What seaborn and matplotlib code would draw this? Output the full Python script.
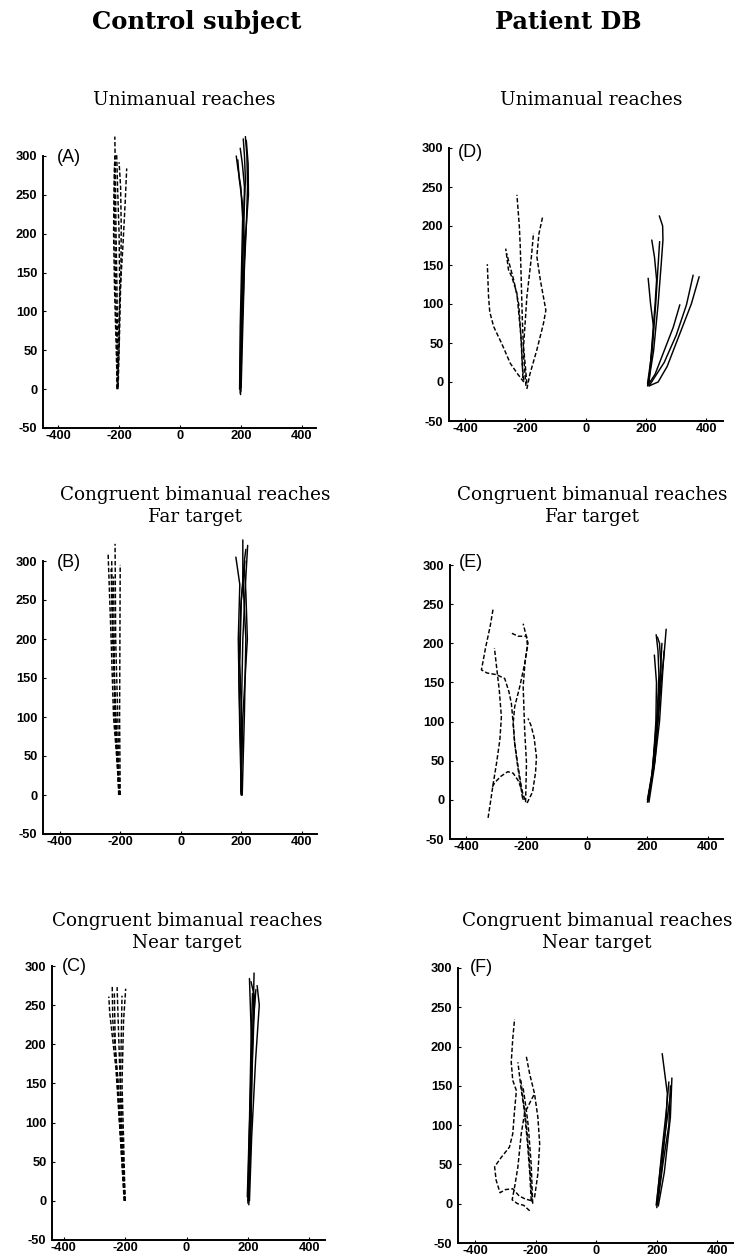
import matplotlib
matplotlib.use("Agg")
import matplotlib.pyplot as plt
import pandas as pd
import seaborn as sns

# ---------------- data (mm) ----------------
XTICKS = [-400, -200, 0, 200, 400]
XTICK_LABELS = ["-400", "-200", "0", "200", "400"]
YTICKS = [-50, 0, 50, 100, 150, 200, 250, 300]
YTICK_LABELS = ["-50", "0", "50", "100", "150", "200", "250", "300"]

COLUMN_TITLES = ["Control subject", "Patient DB"]
ROW_TITLES = ["Unimanual reaches", "Congruent bimanual reaches\nFar target",
              "Congruent bimanual reaches\nNear target"]

# (A) control, unimanual: left hand (dashed) and right hand (solid)
A_left = [
    ([-207, -205, -207, -210, -212, -214], [0, 60, 130, 200, 270, 325]),
    ([-205, -200, -198, -200, -205, -208], [0, 60, 130, 200, 260, 303]),
    ([-206, -203, -196, -188, -180, -175], [2, 60, 130, 180, 240, 284]),
    ([-204, -208, -212, -214, -215, -214], [0, 70, 140, 210, 270, 300]),
    ([-203, -198, -194, -193, -195, -200], [3, 80, 150, 210, 260, 292]),
    ([-206, -210, -215, -218, -217, -215], [1, 60, 130, 200, 250, 290]),
]
A_right = [
    ([198, 200, 204, 208, 212, 205, 198], [-5, 60, 130, 200, 260, 290, 310]),
    ([200, 203, 210, 218, 222, 220, 215], [-3, 70, 140, 210, 260, 300, 325]),
    ([196, 198, 202, 206, 200, 190, 185], [0, 80, 150, 220, 260, 285, 300]),
    ([199, 202, 208, 216, 225, 224, 218], [-7, 70, 140, 200, 250, 290, 320]),
    ([201, 205, 210, 212, 205, 195, 190], [2, 60, 130, 190, 240, 270, 295]),
    ([197, 200, 205, 210, 215, 212, 208], [0, 80, 150, 220, 270, 300, 322]),
]

# (B) control, bimanual far
B_left = [
    ([-203, -212, -222, -230, -240], [0, 50, 100, 200, 310]),
    ([-203, -208, -215, -217], [0, 100, 200, 322]),
    ([-200, -202, -201, -200], [0, 100, 200, 295]),
    ([-205, -215, -225, -230], [0, 100, 200, 290]),
    ([-203, -218, -220, -222], [0, 100, 200, 280]),
    ([-201, -210, -218, -225, -228], [0, 60, 140, 220, 300]),
]
B_right = [
    ([200, 195, 190, 195, 182], [0, 80, 200, 270, 305]),
    ([203, 210, 215, 205, 205], [0, 100, 200, 280, 327]),
    ([200, 200, 205, 215, 221], [0, 100, 200, 280, 320]),
    ([198, 205, 220, 215, 210], [5, 100, 200, 260, 290]),
    ([202, 192, 198, 210, 215], [0, 150, 240, 300, 315]),
    ([199, 203, 195, 200, 212], [2, 70, 170, 250, 300]),
]

# (C) control, bimanual near
C_left = [
    ([-201, -210, -222, -240, -242], [0, 60, 150, 230, 276]),
    ([-202, -215, -230, -250, -253], [0, 80, 170, 240, 261]),
    ([-200, -205, -210, -205, -198], [0, 80, 150, 230, 271]),
    ([-201, -212, -220, -226], [0, 100, 200, 273]),
    ([-203, -218, -232, -235], [0, 100, 200, 265]),
    ([-200, -208, -215, -212, -210], [0, 70, 150, 220, 262]),
]
C_right = [
    ([203, 207, 212, 205], [-5, 100, 200, 284]),
    ([200, 210, 215, 220], [0, 100, 200, 291]),
    ([205, 212, 225, 237, 230], [0, 80, 180, 250, 275]),
    ([198, 205, 210, 215], [5, 100, 200, 265]),
    ([202, 208, 212, 222, 210], [0, 60, 150, 260, 280]),
    ([200, 204, 210, 218, 226], [-3, 80, 160, 230, 270]),
]

# (D) patient, unimanual
D_left = [
    ([-205, -225, -250, -278, -305, -318, -322, -326], [0, 10, 24, 49, 71, 90, 110, 151]),
    ([-205, -210, -215, -228, -245, -256, -265], [2, 20, 60, 114, 135, 144, 171]),
    ([-198, -205, -210, -215, -217, -220, -228], [-5, 30, 80, 150, 175, 200, 240]),
    ([-195, -200, -206, -195, -180, -173], [-2, 20, 45, 109, 160, 191]),
    ([-195, -185, -162, -140, -132, -150, -162, -155, -142], [-9, 10, 41, 75, 92, 130, 161, 190, 213]),
    ([-208, -213, -222, -238, -252, -262], [5, 50, 100, 130, 150, 165]),
]
D_right = [
    ([207, 225, 240, 250, 256, 255, 244], [-4, 40, 100, 150, 182, 200, 213]),
    ([210, 222, 230, 235, 228, 219], [0, 60, 100, 131, 160, 182]),
    ([205, 215, 225, 215, 207], [-5, 20, 70, 100, 133]),
    ([210, 260, 300, 334, 356], [-5, 25, 60, 99, 137]),
    ([210, 240, 270, 310, 350, 376], [-5, 0, 20, 60, 100, 135]),
    ([208, 230, 260, 290, 312], [-3, 10, 40, 70, 99]),
    ([205, 220, 232, 240, 245], [-2, 40, 100, 150, 180]),
]

# (E) patient, bimanual far
E_left = [
    ([-327, -318, -310, -299, -288, -283, -290, -299, -306], [-23, 0, 21, 47, 77, 106, 140, 170, 194]),
    ([-205, -215, -228, -244, -262, -285, -305, -315], [0, 12, 25, 34, 36, 30, 22, 15]),
    ([-213, -220, -230, -239, -244, -250, -258, -272, -300, -330, -349, -335, -320, -310],
     [2, 20, 45, 72, 98, 123, 138, 155, 160, 162, 166, 195, 222, 245]),
    ([-211, -217, -228, -239, -244, -239, -222, -206, -195, -211], [0, 17, 43, 72, 98, 119, 145, 174, 200, 225]),
    ([-203, -200, -206, -211, -205, -197, -200, -228, -255], [-3, 47, 89, 145, 175, 198, 209, 209, 214]),
    ([-198, -180, -170, -167, -175, -185, -195], [-4, 10, 35, 55, 80, 95, 104]),
]
E_right = [
    ([200, 215, 232, 238, 235, 229], [-3, 30, 100, 160, 190, 211]),
    ([203, 220, 235, 245, 255, 262], [0, 40, 100, 150, 185, 218]),
    ([205, 222, 240, 250, 255], [-3, 40, 100, 160, 190]),
    ([200, 218, 228, 230, 223], [0, 40, 100, 150, 185]),
    ([202, 225, 238, 245, 240, 233], [0, 50, 120, 170, 200, 208]),
    ([201, 214, 226, 236, 244, 248], [-2, 30, 80, 130, 170, 200]),
]

# (F) patient, bimanual near
F_left = [
    ([-215, -235, -255, -276, -300, -318, -331, -336, -314, -287, -276, -270, -264, -276, -281, -276, -270],
     [4, 6, 10, 19, 18, 14, 30, 47, 59, 72, 89, 119, 144, 157, 180, 210, 235]),
    ([-220, -240, -260, -278, -270, -259, -248, -237, -215, -204], [-9, -2, 0, 5, 21, 47, 89, 115, 132, 140]),
    ([-204, -193, -187, -193, -204, -220, -231], [8, 38, 76, 110, 140, 165, 187]),
    ([-215, -220, -228, -238, -248, -259], [4, 40, 80, 120, 145, 180]),
    ([-210, -215, -225, -235, -243], [0, 50, 100, 130, 150]),
    ([-212, -222, -231, -243, -250], [2, 60, 100, 136, 160]),
]
F_right = [
    ([200, 215, 230, 235, 225, 218], [-5, 40, 100, 140, 170, 191]),
    ([203, 220, 240, 245], [0, 50, 100, 150]),
    ([205, 225, 245, 250], [-3, 40, 110, 160]),
    ([200, 215, 232, 240], [0, 60, 120, 155]),
    ([198, 212, 228, 242, 248], [-2, 45, 90, 130, 145]),
]

PANEL_DATA = {"A": (A_left, A_right), "B": (B_left, B_right), "C": (C_left, C_right),
              "D": (D_left, D_right), "E": (E_left, E_right), "F": (F_left, F_right)}

# ---------------- layout (pixels) ----------------
W, H = 736, 1259
# left px, top px (y=300), right px, bottom px (y=-50), xlim, label pos
LAYOUT = {
    "A": (43, 156, 316, 428, (-450, 447), (-404, 298)),
    "B": (43, 561, 317, 834, (-455, 450), (-409, 298)),
    "C": (52, 966, 325, 1240, (-438, 451), (-405, 300)),
    "D": (449, 148, 723, 421, (-453, 455), (-423, 294)),
    "E": (450, 565, 723, 839, (-453, 450), (-423, 303)),
    "F": (458, 968, 733, 1243, (-457, 452), (-417, 301)),
}

sns.set_style("ticks")
plt.rcParams["font.family"] = ["Liberation Sans", "DejaVu Sans"]
plt.rcParams["text.color"] = "black"
plt.rcParams["xtick.color"] = "black"
plt.rcParams["ytick.color"] = "black"
plt.rcParams["xtick.labelcolor"] = "black"
plt.rcParams["ytick.labelcolor"] = "black"

fig = plt.figure(figsize=(W / 100, H / 100), dpi=100)
renderer = fig.canvas.get_renderer()


def to_frame(left, right):
    rows = []
    k = 0
    for hand, trajs in (("L", left), ("R", right)):
        for xs, ys in trajs:
            for x, y in zip(xs, ys):
                rows.append({"x": x, "y": y, "trial": k, "hand": hand})
            k += 1
    return pd.DataFrame(rows)


for name, (L, T, R, B, xl, lab) in LAYOUT.items():
    ax = fig.add_axes([L / W, 1 - B / H, (R - L) / W, (B - T) / H])
    df = to_frame(*PANEL_DATA[name])
    sns.lineplot(data=df, x="x", y="y", units="trial", estimator=None, sort=False,
                 style="hand", dashes={"L": (3.0, 1.5), "R": ""}, color="black",
                 linewidth=1.05, legend=False, ax=ax)
    for ln in ax.lines:
        ln.set_clip_on(False)
    ax.set_xlim(*xl)
    ax.set_ylim(-50, 300)
    ax.set_xlabel("")
    ax.set_ylabel("")
    ax.set_xticks(XTICKS)
    ax.set_xticklabels(XTICK_LABELS, fontweight="bold", fontsize=9.3)
    ax.set_yticks(YTICKS)
    ax.set_yticklabels(YTICK_LABELS, fontweight="bold", fontsize=9.3)
    ax.tick_params(direction="in", length=2, width=0.8, color="black")
    ax.tick_params(axis="x", pad=1.5)
    ax.tick_params(axis="y", pad=4)
    for s in ("top", "right"):
        ax.spines[s].set_visible(False)
    for s in ("left", "bottom"):
        ax.spines[s].set_linewidth(1.4)
        ax.spines[s].set_color("black")
    ax.patch.set_alpha(0)
    ax.text(lab[0], lab[1], f"({name})", fontsize=13, ha="left", va="center", color="black")

SERIF = ["DejaVu Serif"]


def fit_text(cx, cy, s, width_px, weight):
    t = fig.text(cx / W, 1 - cy / H, s, ha="center", va="center", family=SERIF,
                 fontweight=weight, fontsize=12, linespacing=1.25, color="black")
    bb = t.get_window_extent(renderer)
    t.set_fontsize(12 * width_px / bb.width)
    return t


fit_text(197, 22, COLUMN_TITLES[0], 209, "bold")
fit_text(568, 22, COLUMN_TITLES[1], 146, "bold")
fit_text(184, 100, ROW_TITLES[0], 183, "normal")
fit_text(591, 100, ROW_TITLES[0], 183, "normal")
fit_text(195, 506, ROW_TITLES[1], 270, "normal")
fit_text(592, 506, ROW_TITLES[1], 270, "normal")
fit_text(187, 932, ROW_TITLES[2], 270, "normal")
fit_text(597, 932, ROW_TITLES[2], 270, "normal")

fig.savefig("out.png", dpi=100)
